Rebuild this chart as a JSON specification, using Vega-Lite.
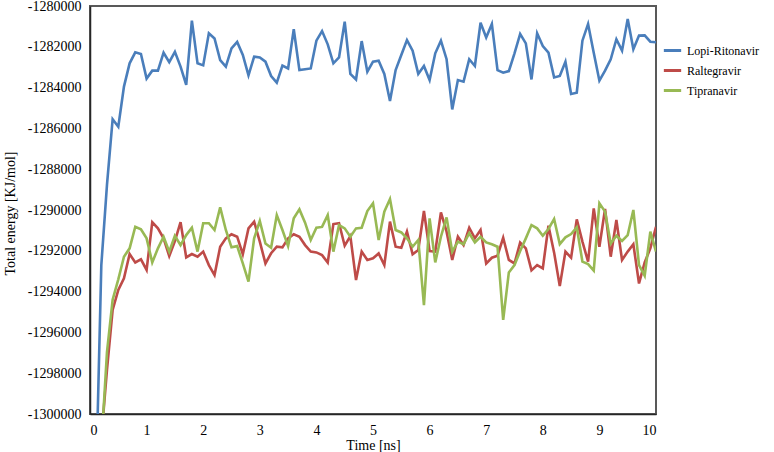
{
  "$schema": "https://vega.github.io/schema/vega-lite/v6.json",
  "autosize": {"type": "none"},
  "padding": {"left": 90, "top": 6, "right": 118, "bottom": 38},
  "width": 566,
  "height": 408,
  "background": "white",
  "config": {
    "view": {"stroke": "#595959", "strokeWidth": 2},
    "font": "Times New Roman, Liberation Serif, DejaVu Serif, serif",
    "axis": {"grid": false, "ticks": false, "domainColor": "#262626", "domainWidth": 1.5, "labelFont": "Times New Roman, Liberation Serif, DejaVu Serif, serif", "titleFont": "Times New Roman, Liberation Serif, DejaVu Serif, serif", "labelColor": "#000", "titleColor": "#000", "labelFontSize": 14, "titleFontSize": 14, "titleFontWeight": "normal"},
    "legend": {"labelFont": "Times New Roman, Liberation Serif, DejaVu Serif, serif", "labelColor": "#000"}
  },
  "data": {"values": [
    {"t":0.1,"Lopi-Ritonavir":-1304100,"Raltegravir":-1310000,"Tipranavir":-1310000},
    {"t":0.2,"Lopi-Ritonavir":-1292700,"Raltegravir":-1301180,"Tipranavir":-1301620},
    {"t":0.3,"Lopi-Ritonavir":-1288770,"Raltegravir":-1297840,"Tipranavir":-1296960},
    {"t":0.4,"Lopi-Ritonavir":-1285550,"Raltegravir":-1294900,"Tipranavir":-1294400},
    {"t":0.5,"Lopi-Ritonavir":-1285920,"Raltegravir":-1293920,"Tipranavir":-1293400},
    {"t":0.6,"Lopi-Ritonavir":-1283950,"Raltegravir":-1293350,"Tipranavir":-1292290},
    {"t":0.7,"Lopi-Ritonavir":-1282810,"Raltegravir":-1292160,"Tipranavir":-1291880},
    {"t":0.8,"Lopi-Ritonavir":-1282270,"Raltegravir":-1292570,"Tipranavir":-1290820},
    {"t":0.9,"Lopi-Ritonavir":-1282350,"Raltegravir":-1292420,"Tipranavir":-1290950},
    {"t":1.0,"Lopi-Ritonavir":-1283560,"Raltegravir":-1292940,"Tipranavir":-1291390},
    {"t":1.1,"Lopi-Ritonavir":-1283170,"Raltegravir":-1290600,"Tipranavir":-1292570},
    {"t":1.2,"Lopi-Ritonavir":-1283170,"Raltegravir":-1290900,"Tipranavir":-1291880},
    {"t":1.3,"Lopi-Ritonavir":-1282290,"Raltegravir":-1291390,"Tipranavir":-1291310},
    {"t":1.4,"Lopi-Ritonavir":-1282750,"Raltegravir":-1292260,"Tipranavir":-1292040},
    {"t":1.5,"Lopi-Ritonavir":-1282250,"Raltegravir":-1291520,"Tipranavir":-1291260},
    {"t":1.6,"Lopi-Ritonavir":-1282970,"Raltegravir":-1290600,"Tipranavir":-1291720},
    {"t":1.7,"Lopi-Ritonavir":-1283870,"Raltegravir":-1292320,"Tipranavir":-1291230},
    {"t":1.8,"Lopi-Ritonavir":-1280720,"Raltegravir":-1292160,"Tipranavir":-1290870},
    {"t":1.9,"Lopi-Ritonavir":-1282810,"Raltegravir":-1292290,"Tipranavir":-1292040},
    {"t":2.0,"Lopi-Ritonavir":-1282910,"Raltegravir":-1292040,"Tipranavir":-1290650},
    {"t":2.1,"Lopi-Ritonavir":-1281340,"Raltegravir":-1292700,"Tipranavir":-1290650},
    {"t":2.2,"Lopi-Ritonavir":-1281590,"Raltegravir":-1293190,"Tipranavir":-1290980},
    {"t":2.3,"Lopi-Ritonavir":-1282650,"Raltegravir":-1291800,"Tipranavir":-1289870},
    {"t":2.4,"Lopi-Ritonavir":-1282970,"Raltegravir":-1291390,"Tipranavir":-1290980},
    {"t":2.5,"Lopi-Ritonavir":-1282080,"Raltegravir":-1291190,"Tipranavir":-1291830},
    {"t":2.6,"Lopi-Ritonavir":-1281760,"Raltegravir":-1291310,"Tipranavir":-1291770},
    {"t":2.7,"Lopi-Ritonavir":-1282400,"Raltegravir":-1292170,"Tipranavir":-1292620},
    {"t":2.8,"Lopi-Ritonavir":-1283400,"Raltegravir":-1290900,"Tipranavir":-1293510},
    {"t":2.9,"Lopi-Ritonavir":-1282480,"Raltegravir":-1290570,"Tipranavir":-1291390},
    {"t":3.0,"Lopi-Ritonavir":-1282520,"Raltegravir":-1291550,"Tipranavir":-1290540},
    {"t":3.1,"Lopi-Ritonavir":-1282730,"Raltegravir":-1292620,"Tipranavir":-1291640},
    {"t":3.2,"Lopi-Ritonavir":-1283430,"Raltegravir":-1292120,"Tipranavir":-1291850},
    {"t":3.3,"Lopi-Ritonavir":-1283760,"Raltegravir":-1291800,"Tipranavir":-1290250},
    {"t":3.4,"Lopi-Ritonavir":-1282920,"Raltegravir":-1291830,"Tipranavir":-1290980},
    {"t":3.5,"Lopi-Ritonavir":-1283060,"Raltegravir":-1291390,"Tipranavir":-1291770},
    {"t":3.6,"Lopi-Ritonavir":-1281140,"Raltegravir":-1291190,"Tipranavir":-1290410},
    {"t":3.7,"Lopi-Ritonavir":-1283140,"Raltegravir":-1291310,"Tipranavir":-1289970},
    {"t":3.8,"Lopi-Ritonavir":-1283100,"Raltegravir":-1291720,"Tipranavir":-1290620},
    {"t":3.9,"Lopi-Ritonavir":-1283060,"Raltegravir":-1292040,"Tipranavir":-1291470},
    {"t":4.0,"Lopi-Ritonavir":-1281700,"Raltegravir":-1292080,"Tipranavir":-1290870},
    {"t":4.1,"Lopi-Ritonavir":-1281230,"Raltegravir":-1292210,"Tipranavir":-1290830},
    {"t":4.2,"Lopi-Ritonavir":-1281880,"Raltegravir":-1292570,"Tipranavir":-1290250},
    {"t":4.3,"Lopi-Ritonavir":-1282810,"Raltegravir":-1290690,"Tipranavir":-1292040},
    {"t":4.4,"Lopi-Ritonavir":-1282520,"Raltegravir":-1290650,"Tipranavir":-1290740},
    {"t":4.5,"Lopi-Ritonavir":-1280770,"Raltegravir":-1291750,"Tipranavir":-1290900},
    {"t":4.6,"Lopi-Ritonavir":-1283330,"Raltegravir":-1291280,"Tipranavir":-1291310},
    {"t":4.7,"Lopi-Ritonavir":-1283600,"Raltegravir":-1293430,"Tipranavir":-1290900},
    {"t":4.8,"Lopi-Ritonavir":-1281720,"Raltegravir":-1292040,"Tipranavir":-1290870},
    {"t":4.9,"Lopi-Ritonavir":-1283220,"Raltegravir":-1292450,"Tipranavir":-1290050},
    {"t":5.0,"Lopi-Ritonavir":-1282730,"Raltegravir":-1292370,"Tipranavir":-1289670},
    {"t":5.1,"Lopi-Ritonavir":-1282680,"Raltegravir":-1292130,"Tipranavir":-1291470},
    {"t":5.2,"Lopi-Ritonavir":-1283330,"Raltegravir":-1292700,"Tipranavir":-1290080},
    {"t":5.3,"Lopi-Ritonavir":-1284660,"Raltegravir":-1290570,"Tipranavir":-1289460},
    {"t":5.4,"Lopi-Ritonavir":-1283140,"Raltegravir":-1291800,"Tipranavir":-1290980},
    {"t":5.5,"Lopi-Ritonavir":-1282400,"Raltegravir":-1291850,"Tipranavir":-1291100},
    {"t":5.6,"Lopi-Ritonavir":-1281670,"Raltegravir":-1291060,"Tipranavir":-1291390},
    {"t":5.7,"Lopi-Ritonavir":-1282190,"Raltegravir":-1292170,"Tipranavir":-1291800},
    {"t":5.8,"Lopi-Ritonavir":-1283330,"Raltegravir":-1291960,"Tipranavir":-1291470},
    {"t":5.9,"Lopi-Ritonavir":-1282940,"Raltegravir":-1290050,"Tipranavir":-1294660},
    {"t":6.0,"Lopi-Ritonavir":-1283630,"Raltegravir":-1292010,"Tipranavir":-1290410},
    {"t":6.1,"Lopi-Ritonavir":-1282320,"Raltegravir":-1292040,"Tipranavir":-1292570},
    {"t":6.2,"Lopi-Ritonavir":-1281700,"Raltegravir":-1290120,"Tipranavir":-1291310},
    {"t":6.3,"Lopi-Ritonavir":-1282610,"Raltegravir":-1291060,"Tipranavir":-1290360},
    {"t":6.4,"Lopi-Ritonavir":-1285070,"Raltegravir":-1292450,"Tipranavir":-1292040},
    {"t":6.5,"Lopi-Ritonavir":-1283630,"Raltegravir":-1291310,"Tipranavir":-1291550},
    {"t":6.6,"Lopi-Ritonavir":-1283710,"Raltegravir":-1291720,"Tipranavir":-1291680},
    {"t":6.7,"Lopi-Ritonavir":-1282610,"Raltegravir":-1290870,"Tipranavir":-1291140},
    {"t":6.8,"Lopi-Ritonavir":-1282940,"Raltegravir":-1291390,"Tipranavir":-1291590},
    {"t":6.9,"Lopi-Ritonavir":-1280820,"Raltegravir":-1290980,"Tipranavir":-1291310},
    {"t":7.0,"Lopi-Ritonavir":-1281540,"Raltegravir":-1292620,"Tipranavir":-1291590},
    {"t":7.1,"Lopi-Ritonavir":-1280880,"Raltegravir":-1292340,"Tipranavir":-1291680},
    {"t":7.2,"Lopi-Ritonavir":-1283140,"Raltegravir":-1292240,"Tipranavir":-1291800},
    {"t":7.3,"Lopi-Ritonavir":-1283270,"Raltegravir":-1291360,"Tipranavir":-1295390},
    {"t":7.4,"Lopi-Ritonavir":-1283190,"Raltegravir":-1292450,"Tipranavir":-1293060},
    {"t":7.5,"Lopi-Ritonavir":-1282320,"Raltegravir":-1292620,"Tipranavir":-1292700},
    {"t":7.6,"Lopi-Ritonavir":-1281370,"Raltegravir":-1291600,"Tipranavir":-1292010},
    {"t":7.7,"Lopi-Ritonavir":-1281830,"Raltegravir":-1291880,"Tipranavir":-1291390},
    {"t":7.8,"Lopi-Ritonavir":-1283600,"Raltegravir":-1292960,"Tipranavir":-1290740},
    {"t":7.9,"Lopi-Ritonavir":-1281340,"Raltegravir":-1292700,"Tipranavir":-1290900},
    {"t":8.0,"Lopi-Ritonavir":-1281960,"Raltegravir":-1292860,"Tipranavir":-1291260},
    {"t":8.1,"Lopi-Ritonavir":-1282290,"Raltegravir":-1290770,"Tipranavir":-1290930},
    {"t":8.2,"Lopi-Ritonavir":-1283500,"Raltegravir":-1292090,"Tipranavir":-1290440},
    {"t":8.3,"Lopi-Ritonavir":-1283430,"Raltegravir":-1293730,"Tipranavir":-1291670},
    {"t":8.4,"Lopi-Ritonavir":-1282730,"Raltegravir":-1292040,"Tipranavir":-1291340},
    {"t":8.5,"Lopi-Ritonavir":-1284310,"Raltegravir":-1292340,"Tipranavir":-1291180},
    {"t":8.6,"Lopi-Ritonavir":-1284250,"Raltegravir":-1290460,"Tipranavir":-1290850},
    {"t":8.7,"Lopi-Ritonavir":-1281700,"Raltegravir":-1291550,"Tipranavir":-1292530},
    {"t":8.8,"Lopi-Ritonavir":-1280880,"Raltegravir":-1292530,"Tipranavir":-1292650},
    {"t":8.9,"Lopi-Ritonavir":-1282290,"Raltegravir":-1289920,"Tipranavir":-1292970},
    {"t":9.0,"Lopi-Ritonavir":-1283660,"Raltegravir":-1291800,"Tipranavir":-1289670},
    {"t":9.1,"Lopi-Ritonavir":-1283170,"Raltegravir":-1289950,"Tipranavir":-1290080},
    {"t":9.2,"Lopi-Ritonavir":-1282610,"Raltegravir":-1292290,"Tipranavir":-1291640},
    {"t":9.3,"Lopi-Ritonavir":-1281630,"Raltegravir":-1290490,"Tipranavir":-1291260},
    {"t":9.4,"Lopi-Ritonavir":-1282190,"Raltegravir":-1292450,"Tipranavir":-1291520},
    {"t":9.5,"Lopi-Ritonavir":-1280640,"Raltegravir":-1292040,"Tipranavir":-1291230},
    {"t":9.6,"Lopi-Ritonavir":-1282120,"Raltegravir":-1291680,"Tipranavir":-1290000},
    {"t":9.7,"Lopi-Ritonavir":-1281450,"Raltegravir":-1293600,"Tipranavir":-1292700},
    {"t":9.8,"Lopi-Ritonavir":-1281440,"Raltegravir":-1292570,"Tipranavir":-1293220},
    {"t":9.9,"Lopi-Ritonavir":-1281750,"Raltegravir":-1291880,"Tipranavir":-1291060},
    {"t":10.0,"Lopi-Ritonavir":-1281780,"Raltegravir":-1290820,"Tipranavir":-1292040}
  ]},
  "transform": [{"fold": ["Lopi-Ritonavir", "Raltegravir", "Tipranavir"], "as": ["series", "energy"]}],
  "mark": {"type": "line", "clip": true, "strokeWidth": 2.6, "interpolate": "linear"},
  "encoding": {
    "x": {"field": "t", "type": "quantitative", "scale": {"domain": [0, 10], "nice": false},
      "axis": {"values": [0,1,2,3,4,5,6,7,8,9,10], "title": "Time [ns]", "labelPadding": 9, "titleY": 24, "titleBaseline": "top"}},
    "y": {"field": "energy", "type": "quantitative", "scale": {"domain": [-1300000, -1280000], "nice": false, "zero": false},
      "axis": {"values": [-1300000,-1298000,-1296000,-1294000,-1292000,-1290000,-1288000,-1286000,-1284000,-1282000,-1280000],
        "labelExpr": "'-' + format(abs(datum.value), 'd')", "labelPadding": 9, "title": "Total energy [KJ/mol]",
        "titleX": -80, "titleY": 207, "titleAngle": 270, "titleAlign": "center", "titleBaseline": "middle"}},
    "color": {"field": "series", "type": "nominal",
      "scale": {"domain": ["Lopi-Ritonavir", "Raltegravir", "Tipranavir"], "range": ["#4a7ebb", "#be4b48", "#98b954"]},
      "legend": {"title": null, "orient": "none", "legendX": 572, "legendY": 34, "symbolType": "stroke", "symbolStrokeWidth": 3, "symbolSize": 300, "labelFontSize": 12, "rowPadding": 3, "labelOffset": 4}}
  }
}
